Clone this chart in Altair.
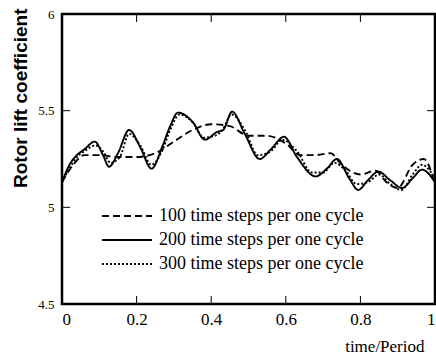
import altair as alt
import pandas as pd

names = ["100 time steps per one cycle", "200 time steps per one cycle", "300 time steps per one cycle"]

# 100 time steps per cycle (dashed)
x100 = [0, 0.03, 0.06, 0.1, 0.15, 0.2, 0.25, 0.3, 0.35, 0.4, 0.45, 0.5, 0.55, 0.6, 0.64, 0.68,
        0.72, 0.75, 0.8, 0.84, 0.87, 0.9, 0.94, 0.97, 1.0]
y100 = [5.13, 5.22, 5.27, 5.27, 5.26, 5.26, 5.28, 5.34, 5.40, 5.43, 5.42, 5.37, 5.37, 5.33, 5.27, 5.27,
        5.28, 5.22, 5.17, 5.19, 5.13, 5.10, 5.22, 5.25, 5.12]

# 200 time steps per cycle (solid)
x200 = [0, 0.02, 0.04, 0.06, 0.088, 0.11, 0.126, 0.15, 0.18, 0.21, 0.24, 0.27, 0.29, 0.311, 0.351,
        0.383, 0.416, 0.432, 0.456, 0.49, 0.53, 0.56, 0.595, 0.63, 0.68, 0.71, 0.737, 0.77, 0.794,
        0.82, 0.848, 0.88, 0.912, 0.94, 0.965, 1.0]
y200 = [5.13, 5.22, 5.27, 5.30, 5.34, 5.27, 5.21, 5.28, 5.40, 5.31, 5.20, 5.32, 5.42, 5.49, 5.44,
        5.35, 5.39, 5.40, 5.495, 5.38, 5.25, 5.30, 5.365, 5.26, 5.16, 5.20, 5.25, 5.15, 5.09,
        5.14, 5.185, 5.14, 5.10, 5.15, 5.195, 5.13]

# 300 time steps per cycle (dotted)
x300 = [0, 0.02, 0.04, 0.06, 0.09, 0.11, 0.13, 0.155, 0.18, 0.21, 0.24, 0.27, 0.29, 0.315, 0.35,
        0.38, 0.41, 0.43, 0.455, 0.49, 0.525, 0.56, 0.59, 0.63, 0.67, 0.7, 0.73, 0.76, 0.79, 0.82,
        0.85, 0.88, 0.91, 0.94, 0.965, 1.0]
y300 = [5.13, 5.20, 5.26, 5.29, 5.32, 5.29, 5.23, 5.26, 5.38, 5.32, 5.22, 5.30, 5.40, 5.48, 5.44,
        5.36, 5.37, 5.40, 5.48, 5.40, 5.27, 5.29, 5.35, 5.29, 5.18, 5.18, 5.23, 5.19, 5.12, 5.13,
        5.17, 5.12, 5.09, 5.17, 5.22, 5.15]

x_ticks = [0, 0.2, 0.4, 0.6, 0.8, 1]
y_ticks = [4.5, 5, 5.5, 6]
x_inner = [0.2, 0.4, 0.6, 0.8]
y_inner = [5, 5.5]

rows = []
for name, xs, ys in zip(names, [x100, x200, x300], [y100, y200, y300]):
    for a, b in zip(xs, ys):
        rows.append({"series": name, "t": a, "cl": b})
df = pd.DataFrame(rows)

SERIF = "Liberation Serif"

xscale = alt.Scale(domain=[0, 1], nice=False)
yscale = alt.Scale(domain=[4.5, 6], nice=False, zero=False)

xaxis = alt.Axis(
    values=x_ticks, format="~f", title="time/Period", grid=False, ticks=False, domain=False,
    labelFont=SERIF, labelFontSize=17, labelPadding=7, labelColor="black",
    titleFont=SERIF, titleFontSize=17, titleFontWeight="normal", titleColor="black",
    titleX=362, titleY=47, titleAlign="right", titleBaseline="alphabetic")
yaxis = alt.Axis(
    values=y_ticks, format="~f", title="Rotor lift coefficient", grid=False, ticks=False,
    domain=False, labelFont=SERIF, labelFontSize=13, labelPadding=8, labelColor="black",
    titleFont="Liberation Sans", titleFontSize=19, titleFontWeight="bold", titleColor="black",
    titleX=-42, titleY=-6, titleAlign="right", titleBaseline="middle")

legend = alt.Legend(
    title=None, orient="none", legendX=54, legendY=191,
    symbolType="M-2.5,0H2.5", symbolSize=400, symbolStrokeColor="black",
    labelFont=SERIF, labelFontSize=18, labelOffset=21, rowPadding=4,
    labelLimit=400, padding=0, labelColor="black",
)

lines = alt.Chart(df).mark_line(color="black", interpolate="monotone").encode(
    x=alt.X("t:Q", scale=xscale, axis=xaxis),
    y=alt.Y("cl:Q", scale=yscale, axis=yaxis),
    strokeDash=alt.StrokeDash("series:N", scale=alt.Scale(domain=names, range=[[7, 4], [1, 0], [2, 2]]),
                              legend=legend),
    strokeWidth=alt.StrokeWidth("series:N", scale=alt.Scale(domain=names, range=[1.9, 1.9, 1.0]),
                                legend=legend),
)

xt = pd.DataFrame({"t": x_inner})
yt = pd.DataFrame({"cl": y_inner})

bottom_ticks = alt.Chart(xt).mark_rule(color="black", strokeWidth=1).encode(
    x=alt.X("t:Q", scale=xscale, axis=xaxis), y=alt.value(290), y2=alt.value(282))
top_ticks = alt.Chart(xt).mark_rule(color="black", strokeWidth=1).encode(
    x=alt.X("t:Q", scale=xscale, axis=xaxis), y=alt.value(0), y2=alt.value(8))
left_ticks = alt.Chart(yt).mark_rule(color="black", strokeWidth=1).encode(
    y=alt.Y("cl:Q", scale=yscale, axis=yaxis), x=alt.value(0), x2=alt.value(8))
right_ticks = alt.Chart(yt).mark_rule(color="black", strokeWidth=1).encode(
    y=alt.Y("cl:Q", scale=yscale, axis=yaxis), x=alt.value(373), x2=alt.value(365))

chart = alt.layer(lines, bottom_ticks, top_ticks, left_ticks, right_ticks).properties(
    width=373, height=290,
    autosize=alt.AutoSizeParams(type="none"),
    padding={"left": 62, "top": 14, "right": 1, "bottom": 53},
    background="white",
).configure_view(
    stroke="black", strokeWidth=2.5
)

chart.save("out.html", embed_options={"renderer": "svg", "actions": False})
